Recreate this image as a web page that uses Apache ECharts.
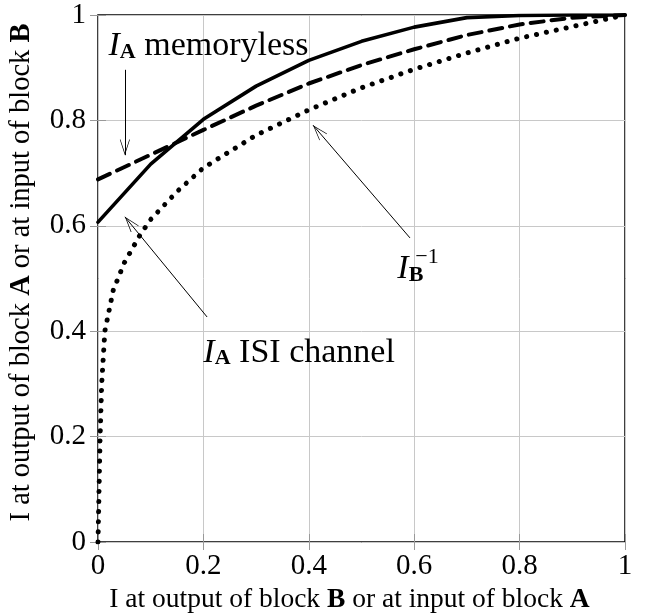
<!DOCTYPE html>
<html>
<head>
<meta charset="utf-8">
<script src="https://cdn.jsdelivr.net/npm/echarts@6/dist/echarts.min.js"></script>
<style>
  html, body { margin: 0; padding: 0; background: #fff; }
  #chart { width: 645px; height: 613px; }
</style>
</head>
<body>
<div id="chart"></div>
<script>
// x positions used by the two I_A curves
const xSteps = [0, 0.1, 0.2, 0.3, 0.4, 0.5, 0.6, 0.7, 0.8, 0.9, 1.0];
const isiChannel = [0.607, 0.717, 0.802, 0.865, 0.914, 0.950, 0.977, 0.995, 0.999, 1.0, 1.0];
const memoryless = [0.688, 0.735, 0.782, 0.828, 0.870, 0.905, 0.935, 0.962, 0.982, 0.995, 1.0];

// inverse transfer curve of block B
const invBx = [0, 0.002, 0.004, 0.007, 0.013, 0.029, 0.05, 0.067, 0.08, 0.1, 0.15, 0.2, 0.3, 0.4, 0.5, 0.6, 0.7, 0.8, 0.9, 1.0];
const invBy = [0, 0.1, 0.2, 0.3, 0.4, 0.478, 0.53, 0.56, 0.583, 0.612, 0.665, 0.71, 0.772, 0.82, 0.862, 0.897, 0.928, 0.956, 0.978, 1.0];

const font = 'Liberation Serif';

function pairs(xs, ys) {
    return xs.map(function (x, i) { return [x, ys[i]]; });
}

const openArrow = 'path://M0,0 L10,20 L9,20.8 L0,3 L-9,20.8 L-10,20 Z';

const rich = {
    i: { fontFamily: font, fontStyle: 'italic', fontSize: 34, color: '#000', verticalAlign: 'bottom', lineHeight: 37 },
    sub: { fontFamily: font, fontWeight: 'bold', fontSize: 22, color: '#000', verticalAlign: 'bottom', lineHeight: 19 },
    sup: { fontFamily: font, fontSize: 22, color: '#000' },
    t: { fontFamily: font, fontSize: 34, color: '#000', verticalAlign: 'bottom', lineHeight: 37 }
};

function note(coord, text) {
    return {
        coord: coord,
        symbol: 'circle',
        symbolSize: 1,
        itemStyle: { color: 'rgba(0,0,0,0)' },
        label: { show: true, position: 'right', distance: 0, formatter: text, rich: rich }
    };
}

const chart = echarts.init(document.getElementById('chart'));

const axisBase = {
    type: 'value',
    min: 0,
    max: 1,
    interval: 0.2
};

function nameStyle(size, pad) {
    return {
        fontFamily: font, fontSize: size, color: '#000', padding: pad,
        rich: { b: { fontFamily: font, fontSize: size, fontWeight: 'bold', color: '#000' } }
    };
}
const innerTick = { show: true, inside: true, length: 8, lineStyle: { color: '#999' } };
const gridLine = { show: true, lineStyle: { color: '#c8c8c8', width: 1 } };

chart.setOption({
    animation: false,
    backgroundColor: '#fff',
    grid: {
        left: 98, right: 20, top: 15, bottom: 71,
        outerBoundsMode: 'none',
        show: true, borderColor: '#000', borderWidth: 1.5
    },
    xAxis: [
        Object.assign({}, axisBase, {
            position: 'bottom',
            name: 'I at output of block {b|B} or at input of block {b|A}',
            nameLocation: 'middle',
            nameGap: 44,
            nameTextStyle: nameStyle(27.5, [0, 24, 0, 0]),
            axisLine: { show: false },
            axisTick: innerTick,
            axisLabel: { margin: 10, fontFamily: font, fontSize: 29, color: '#000' },
            splitLine: gridLine
        }),
        Object.assign({}, axisBase, {
            position: 'top',
            axisLine: { show: false },
            axisTick: innerTick,
            axisLabel: { show: false },
            splitLine: { show: false }
        })
    ],
    yAxis: [
        Object.assign({}, axisBase, {
            position: 'left',
            name: 'I at output of block {b|A} or at input of block {b|B}',
            nameLocation: 'middle',
            nameGap: 62,
            nameTextStyle: nameStyle(28.5, [0, 0, 0, 12]),
            axisLine: { show: false },
            axisTick: innerTick,
            axisLabel: { margin: 12, fontFamily: font, fontSize: 29, color: '#000' },
            splitLine: gridLine
        }),
        Object.assign({}, axisBase, {
            position: 'right',
            axisLine: { show: false },
            axisTick: innerTick,
            axisLabel: { show: false },
            splitLine: { show: false }
        })
    ],
    series: [
        {
            name: 'I_A ISI channel',
            type: 'line',
            data: pairs(xSteps, isiChannel),
            showSymbol: false,
            lineStyle: { color: '#000', width: 3.6, cap: 'round', join: 'round' },
            markPoint: {
                silent: true,
                data: [
                    note([0.199, 0.362], '{i|I}{sub|A}{t| ISI channel}'),
                    note([0.019, 0.943], '{i|I}{sub|A}{t| memoryless}'),
                    note([0.567, 0.52], '{i|I}{sub|B}'),
                    note([0.601, 0.541], '{sup|−1}')
                ]
            },
            markLine: {
                silent: true,
                symbol: ['none', openArrow],
                symbolSize: [10, 16],
                symbolOffset: [0, [0, 8]],
                label: { show: false },
                lineStyle: { color: '#000', width: 1, type: 'solid' },
                data: [
                    [{ coord: [0.051, 0.896] }, { coord: [0.051, 0.734] }],
                    [{ coord: [0.207, 0.427] }, { coord: [0.051, 0.617] }],
                    [{ coord: [0.592, 0.577] }, { coord: [0.408, 0.791] }]
                ]
            }
        },
        {
            name: 'I_A memoryless',
            type: 'line',
            data: pairs(xSteps, memoryless),
            showSymbol: false,
            lineStyle: { color: '#000', width: 4, type: [13, 8], cap: 'round', join: 'round' }
        },
        {
            name: 'I_B^-1',
            type: 'line',
            data: pairs(invBx, invBy),
            showSymbol: false,
            lineStyle: { color: '#000', width: 5, type: [0.1, 10], cap: 'round', join: 'round' }
        }
    ]
});
</script>
</body>
</html>
